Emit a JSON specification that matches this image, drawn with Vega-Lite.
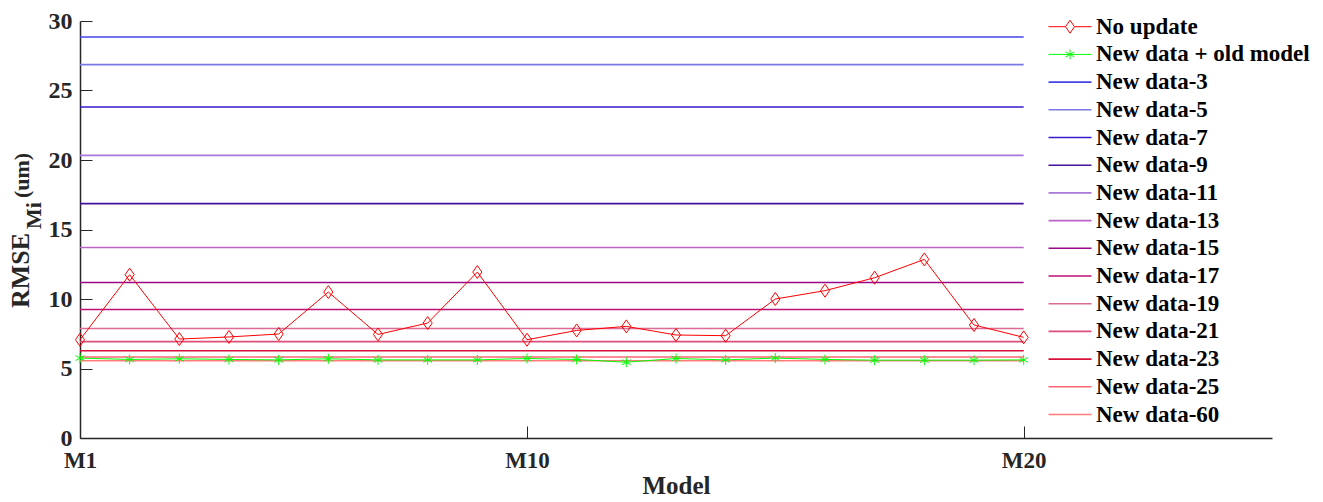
{
  "$schema": "https://vega.github.io/schema/vega-lite/v6.json",
  "width": 1192,
  "height": 417,
  "autosize": {"type": "none"},
  "padding": {"left": 80, "top": 21, "right": 51, "bottom": 64},
  "background": "white",
  "config": {"view": {"stroke": null}, "font": "Liberation Serif"},
  "datasets": {
    "hl": [
      {"series": "New data-3", "model": 1, "value": 28.85}, {"series": "New data-3", "model": 20, "value": 28.85},
      {"series": "New data-5", "model": 1, "value": 26.86}, {"series": "New data-5", "model": 20, "value": 26.86},
      {"series": "New data-7", "model": 1, "value": 23.81}, {"series": "New data-7", "model": 20, "value": 23.81},
      {"series": "New data-9", "model": 1, "value": 16.86}, {"series": "New data-9", "model": 20, "value": 16.86},
      {"series": "New data-11", "model": 1, "value": 20.33}, {"series": "New data-11", "model": 20, "value": 20.33},
      {"series": "New data-13", "model": 1, "value": 13.71}, {"series": "New data-13", "model": 20, "value": 13.71},
      {"series": "New data-15", "model": 1, "value": 11.19}, {"series": "New data-15", "model": 20, "value": 11.19},
      {"series": "New data-17", "model": 1, "value": 9.25}, {"series": "New data-17", "model": 20, "value": 9.25},
      {"series": "New data-19", "model": 1, "value": 7.88}, {"series": "New data-19", "model": 20, "value": 7.88},
      {"series": "New data-21", "model": 1, "value": 6.93}, {"series": "New data-21", "model": 20, "value": 6.93},
      {"series": "New data-23", "model": 1, "value": 6.28}, {"series": "New data-23", "model": 20, "value": 6.28},
      {"series": "New data-25", "model": 1, "value": 5.83}, {"series": "New data-25", "model": 20, "value": 5.83},
      {"series": "New data-60", "model": 1, "value": 5.56}, {"series": "New data-60", "model": 20, "value": 5.56}
    ],
    "nu": [
      {"series": "No update", "model": 1, "value": 7.07},
      {"series": "No update", "model": 2, "value": 11.75},
      {"series": "No update", "model": 3, "value": 7.12},
      {"series": "No update", "model": 4, "value": 7.27},
      {"series": "No update", "model": 5, "value": 7.48},
      {"series": "No update", "model": 6, "value": 10.5},
      {"series": "No update", "model": 7, "value": 7.45},
      {"series": "No update", "model": 8, "value": 8.27},
      {"series": "No update", "model": 9, "value": 11.94},
      {"series": "No update", "model": 10, "value": 7.07},
      {"series": "No update", "model": 11, "value": 7.74},
      {"series": "No update", "model": 12, "value": 8.03},
      {"series": "No update", "model": 13, "value": 7.41},
      {"series": "No update", "model": 14, "value": 7.36},
      {"series": "No update", "model": 15, "value": 10.0},
      {"series": "No update", "model": 16, "value": 10.6},
      {"series": "No update", "model": 17, "value": 11.53},
      {"series": "No update", "model": 18, "value": 12.85},
      {"series": "No update", "model": 19, "value": 8.13},
      {"series": "No update", "model": 20, "value": 7.24}
    ],
    "nd": [
      {"series": "New data + old model", "model": 1, "value": 5.75},
      {"series": "New data + old model", "model": 2, "value": 5.65},
      {"series": "New data + old model", "model": 3, "value": 5.7},
      {"series": "New data + old model", "model": 4, "value": 5.65},
      {"series": "New data + old model", "model": 5, "value": 5.62},
      {"series": "New data + old model", "model": 6, "value": 5.7},
      {"series": "New data + old model", "model": 7, "value": 5.62},
      {"series": "New data + old model", "model": 8, "value": 5.62},
      {"series": "New data + old model", "model": 9, "value": 5.62},
      {"series": "New data + old model", "model": 10, "value": 5.72},
      {"series": "New data + old model", "model": 11, "value": 5.65},
      {"series": "New data + old model", "model": 12, "value": 5.45},
      {"series": "New data + old model", "model": 13, "value": 5.72},
      {"series": "New data + old model", "model": 14, "value": 5.62},
      {"series": "New data + old model", "model": 15, "value": 5.75},
      {"series": "New data + old model", "model": 16, "value": 5.65},
      {"series": "New data + old model", "model": 17, "value": 5.6},
      {"series": "New data + old model", "model": 18, "value": 5.6},
      {"series": "New data + old model", "model": 19, "value": 5.6},
      {"series": "New data + old model", "model": 20, "value": 5.62}
    ]
  },
  "layer": [
    {
      "data": {"name": "hl"},
      "mark": {"type": "line", "strokeWidth": 1.6},
      "encoding": {
        "x": {
          "field": "model", "type": "quantitative",
          "scale": {"domain": [1, 25], "nice": false, "zero": false},
          "axis": {
            "values": [1, 10, 20], "labelExpr": "'M' + datum.value",
            "tickSize": -12, "tickColor": "#262626", "labelPadding": 23,
            "labelFlush": false, "labelBound": false, "labelOverlap": false,
            "labelFont": "Liberation Serif", "labelFontSize": 23, "labelFontWeight": "bold", "labelColor": "#262626",
            "domainColor": "#262626", "domainWidth": 1.5, "grid": false,
            "title": "Model", "titleFont": "Liberation Serif", "titleFontSize": 25, "titleFontWeight": "bold",
            "titleColor": "#262626", "titlePadding": 1
          }
        },
        "y": {
          "field": "value", "type": "quantitative",
          "scale": {"domain": [0, 30], "nice": false},
          "axis": {
            "orient": "left", "values": [0, 5, 10, 15, 20, 25, 30],
            "tickSize": -12, "tickColor": "#262626", "labelPadding": 20,
            "labelFont": "Liberation Serif", "labelFontSize": 24, "labelFontWeight": "bold", "labelColor": "#262626",
            "domainColor": "#262626", "domainWidth": 1.5, "grid": false,
            "title": "RMSE", "titleFont": "Liberation Serif", "titleFontSize": 26, "titleFontWeight": "bold",
            "titleColor": "#262626", "titleAngle": -90, "titleAlign": "center", "titleBaseline": "alphabetic",
            "titleX": -52, "titleY": 249
          }
        },
        "color": {
          "field": "series", "type": "nominal",
          "scale": {
            "domain": ["No update", "New data + old model", "New data-3", "New data-5", "New data-7", "New data-9", "New data-11", "New data-13", "New data-15", "New data-17", "New data-19", "New data-21", "New data-23", "New data-25", "New data-60"],
            "range": ["#FF0000", "#00FF00", "#4444E8", "#7A7AE6", "#3A18CC", "#44109C", "#A878DC", "#BC64C8", "#9A0888", "#BE1078", "#DE6A96", "#DE4E7A", "#D8103A", "#FF6474", "#FF7A7A"]
          },
          "legend": {
            "orient": "none", "legendX": 978.5, "legendY": -5.8, "title": null, "padding": 0,
            "symbolSize": 205, "symbolStrokeWidth": 1.5, "labelOffset": 14.5, "rowPadding": 3.7,
            "labelFont": "Liberation Serif", "labelFontSize": 23, "labelFontWeight": "bold", "labelColor": "#000000",
            "labelLimit": 400,
            "encode": {
              "symbols": {
                "update": {
                  "shape": {"signal": "datum.value == 'No update' ? 'M-3,0H-0.63M0.63,0H3M0,-0.9L0.63,0L0,0.9L-0.63,0Z' : datum.value == 'New data + old model' ? 'M-3,0H3M0,-0.7V0.7M-0.6,-0.35L0.6,0.35M-0.6,0.35L0.6,-0.35' : 'M-3,0H3'"},
                  "fill": {"value": "transparent"},
                  "stroke": {"scale": "color", "field": "value"},
                  "strokeWidth": {"signal": "datum.value == 'No update' || datum.value == 'New data + old model' ? 1 : 1.6"},
                  "opacity": {"value": 1}
                }
              }
            }
          }
        }
      }
    },
    {
      "data": {"name": "nu"},
      "mark": {"type": "line", "strokeWidth": 1},
      "encoding": {
        "x": {"field": "model", "type": "quantitative"},
        "y": {
          "field": "value", "type": "quantitative",
          "axis": {
            "orient": "left", "domain": false, "ticks": false, "labels": false, "grid": false,
            "title": "Mi", "titleFont": "Liberation Serif", "titleFontSize": 22, "titleFontWeight": "bold",
            "titleColor": "#262626", "titleAngle": -90, "titleAlign": "center", "titleBaseline": "alphabetic",
            "titleX": -40, "titleY": 194
          }
        },
        "color": {"field": "series", "type": "nominal"}
      }
    },
    {
      "data": {"name": "nu"},
      "mark": {"type": "point", "shape": "M0,-1L0.7,0L0,1L-0.7,0Z", "size": 169, "filled": false, "strokeWidth": 1, "opacity": 1},
      "encoding": {
        "x": {"field": "model", "type": "quantitative"},
        "y": {
          "field": "value", "type": "quantitative",
          "axis": {
            "orient": "left", "domain": false, "ticks": false, "labels": false, "grid": false,
            "title": "(um)", "titleFont": "Liberation Serif", "titleFontSize": 22, "titleFontWeight": "bold",
            "titleColor": "#262626", "titleAngle": -90, "titleAlign": "center", "titleBaseline": "alphabetic",
            "titleX": -52, "titleY": 154
          }
        },
        "color": {"field": "series", "type": "nominal"}
      }
    },
    {
      "data": {"name": "nd"},
      "mark": {"type": "line", "strokeWidth": 1},
      "encoding": {
        "x": {"field": "model", "type": "quantitative"},
        "y": {"field": "value", "type": "quantitative", "axis": null},
        "color": {"field": "series", "type": "nominal"}
      }
    },
    {
      "data": {"name": "nd"},
      "mark": {"type": "point", "shape": "M0,-1V1M-0.87,-0.5L0.87,0.5M-0.87,0.5L0.87,-0.5", "size": 100, "filled": false, "strokeWidth": 1, "opacity": 1},
      "encoding": {
        "x": {"field": "model", "type": "quantitative"},
        "y": {"field": "value", "type": "quantitative", "axis": null},
        "color": {"field": "series", "type": "nominal"}
      }
    }
  ],
  "resolve": {"axis": {"y": "independent"}}
}
